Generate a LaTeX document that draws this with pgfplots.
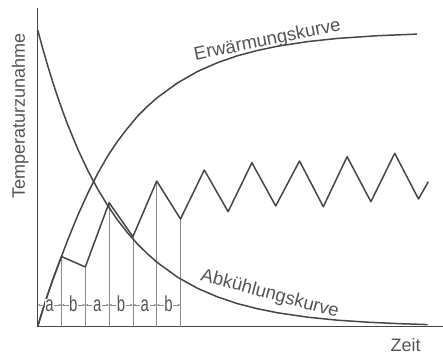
\documentclass[border=0pt]{standalone}
\usepackage{pgfplots}
\pgfplotsset{compat=1.18}
\usepackage{graphicx}
\usepackage{fontspec}
\setmainfont{Liberation Sans}
\usetikzlibrary{arrows.meta}
\definecolor{ink}{RGB}{70,70,70}
\definecolor{txt}{RGB}{85,85,85}
\definecolor{thinc}{RGB}{140,140,140}

\begin{document}
\begin{tikzpicture}
\useasboundingbox (-37.7pt,-26.5pt) rectangle (405.3pt,326.5pt);
\begin{axis}[
  anchor=south west, at={(0pt,0pt)},
  x=1pt, y=1pt,
  xmin=0, xmax=405.3, ymin=0, ymax=318.5,
  axis x line*=bottom, axis y line*=left,
  xtick=\empty, ytick=\empty,
  clip=false,
  axis line style={ink, line width=1.4pt},
]
% thin vertical lines at the switching instants
\addplot[ycomb, thinc, line width=0.6pt, mark=none] coordinates {
 (23.8,70) (47.6,59.5) (71.4,123.8) (95.2,89.8) (119,145.5) (142.8,107.5)};

% Erwaermungskurve
\addplot[ink, line width=1.5pt, line join=round, mark=none] coordinates {
 (0,0) (5,16.5) (10,32) (15,46.5) (20,60) (23.8,70) (30,86.5) (40,111)
 (50,133) (60,153) (70,170.5) (80,185.5) (90,198.5) (100,210.5) (110,220.4)
 (120,229.2) (140,243.7) (160,255.1) (180,263.9) (200,270.8) (220,276.1)
 (240,280.3) (270,284.9) (300,288.1) (340,290.8) (379.3,292.4)};

% Abkuehlungskurve
\addplot[ink, line width=1.5pt, line join=round, mark=none] coordinates {
 (0,296.5) (5,278.1) (10,260.8) (15,244.6) (20,229.4) (25,215.2) (30,201.8)
 (40,177.5) (50,156.2) (60,137.4) (70,120.9) (80,106.3) (90,93.5) (100,82.3)
 (110,72.4) (120,63.7) (140,49.2) (160,38.1) (180,29.5) (200,22.8) (220,17.7)
 (240,13.7) (270,9.3) (300,6.3) (330,4.3) (360,2.9) (390,1.9)};

% intermittent operation (zigzag)
\addplot[ink, line width=1.5pt, line join=round, mark=none] coordinates {
 (0,0) (5,16.5) (10,32) (15,46.5) (20,60) (23.8,70) (47.6,59.5) (71.4,123.8)
 (95.2,89.8) (119,145.5) (142.8,107.5) (166.6,156.5) (190.4,114.8)
 (214.2,163.8) (238,120.5) (261.8,165.5) (285.6,119.8) (309.4,169.8)
 (333.2,124.8) (357,173.2) (380.8,127.5) (390.6,144.8)};

% dimension line a-b-a-b-a-b
\addplot[thinc, line width=0.6pt, {Stealth[length=3pt,width=2.4pt]}-{Stealth[length=3pt,width=2.4pt]}] coordinates {(0,21.5) (23.8,21.5)};
\addplot[thinc, line width=0.6pt, {Stealth[length=3pt,width=2.4pt]}-{Stealth[length=3pt,width=2.4pt]}] coordinates {(23.8,21.5) (47.6,21.5)};
\addplot[thinc, line width=0.6pt, {Stealth[length=3pt,width=2.4pt]}-{Stealth[length=3pt,width=2.4pt]}] coordinates {(47.6,21.5) (71.4,21.5)};
\addplot[thinc, line width=0.6pt, {Stealth[length=3pt,width=2.4pt]}-{Stealth[length=3pt,width=2.4pt]}] coordinates {(71.4,21.5) (95.2,21.5)};
\addplot[thinc, line width=0.6pt, {Stealth[length=3pt,width=2.4pt]}-{Stealth[length=3pt,width=2.4pt]}] coordinates {(95.2,21.5) (119,21.5)};
\addplot[thinc, line width=0.6pt, {Stealth[length=3pt,width=2.4pt]}-{Stealth[length=3pt,width=2.4pt]}] coordinates {(119,21.5) (142.8,21.5)};

\begin{scope}[every node/.style={fill=white, inner sep=0.6pt, anchor=base, text=txt, font=\fontsize{15}{16}\selectfont}]
\node at (axis cs:11.9,14.8) {\scalebox{1}[1.45]{a}};
\node at (axis cs:35.7,14.8) {\scalebox{1}[1.45]{b}};
\node at (axis cs:59.5,14.8) {\scalebox{1}[1.45]{a}};
\node at (axis cs:83.3,14.8) {\scalebox{1}[1.45]{b}};
\node at (axis cs:107.1,14.8) {\scalebox{1}[1.45]{a}};
\node at (axis cs:130.9,14.8) {\scalebox{1}[1.45]{b}};
\end{scope}

% labels
\node[rotate=90, anchor=base, text=txt, font=\fontsize{18}{20}\selectfont] at (axis cs:-12.7,210.5) {Temperaturzunahme};
\node[rotate=11.5, anchor=base, text=txt, font=\fontsize{18.5}{20}\selectfont] at (axis cs:230.8,281) {Erwärmungskurve};
\node[rotate=-15, anchor=base, text=txt, font=\fontsize{18.5}{20}\selectfont] at (axis cs:230.8,27.5) {Abkühlungskurve};
\node[anchor=base, text=txt, font=\fontsize{18}{20}\selectfont] at (axis cs:367.8,-24.5) {Zeit};
\end{axis}
\end{tikzpicture}
\end{document}
